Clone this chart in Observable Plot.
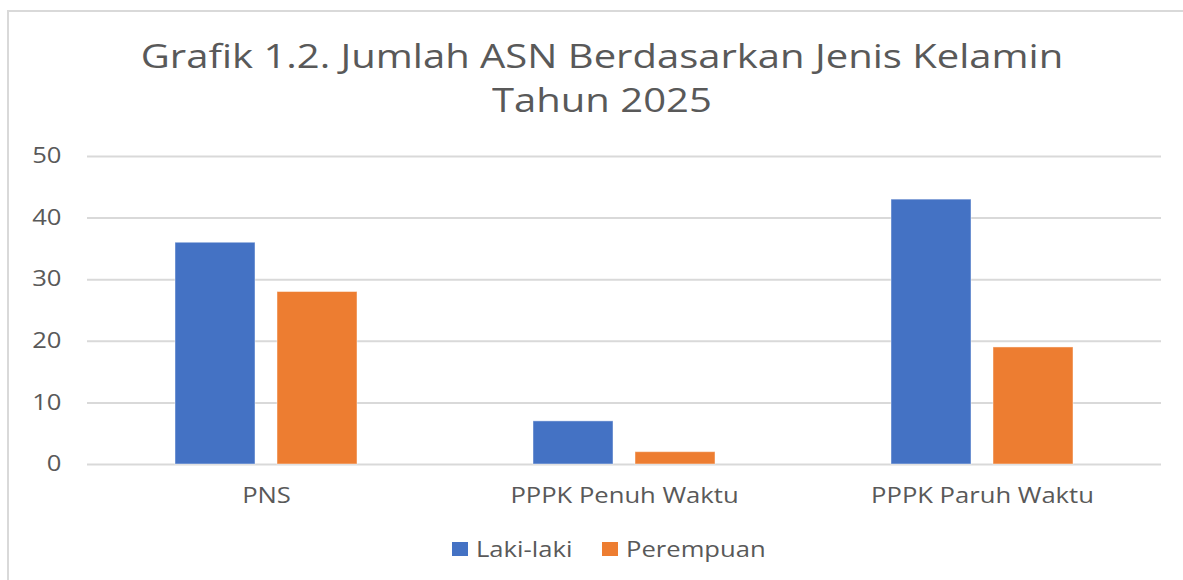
<!DOCTYPE html>
<html><head><meta charset="utf-8">
<script src="https://cdn.jsdelivr.net/npm/d3@7"></script>
<script src="https://cdn.jsdelivr.net/npm/@observablehq/plot@0.6"></script>
<style>
html,body{margin:0;padding:0;background:#fff;overflow:hidden;width:1183px;height:580px;position:relative;}
#frame{position:absolute;left:7px;top:10px;width:1200px;height:620px;border:2px solid #d9d9d9;box-sizing:border-box;}
#title{position:absolute;left:7px;width:1190px;top:34px;text-align:center;font-family:"Open Sans",sans-serif;font-size:32px;line-height:44px;color:#595959;}
#title span{display:inline-block;transform:scaleX(1.25);transform-origin:center;}
#chart{position:absolute;left:0;top:130px;}
.item{position:absolute;top:535px;height:28px;display:flex;align-items:center;font-family:"Open Sans",sans-serif;font-size:21px;color:#595959;white-space:nowrap;}
.sw{width:16px;height:14px;margin-right:8px;flex:none;}
.item span{display:inline-block;transform:scaleX(1.22);transform-origin:left center;}
</style></head><body>
<div id="frame"></div>
<div id="title"><span>Grafik 1.2. Jumlah ASN Berdasarkan Jenis Kelamin</span><br><span>Tahun 2025</span></div>
<div id="chart"></div>
<div id="legend"></div>
<script>
const categories = ["PNS", "PPPK Penuh Waktu", "PPPK Paruh Waktu"];
const series = ["Laki-laki", "Perempuan"];
const lakiLaki = [36, 7, 43];
const perempuan = [28, 2, 19];
const yTicks = [0, 10, 20, 30, 40, 50];
const colors = ["#4472C4", "#ED7D31"];

const data = categories.flatMap((c, i) => [
  {category: c, sex: series[0], value: lakiLaki[i]},
  {category: c, sex: series[1], value: perempuan[i]}
]);

const chart = Plot.plot({
  width: 1183, height: 384,
  marginLeft: 87, marginRight: 22, marginTop: 26, marginBottom: 50,
  style: {fontFamily: "'Open Sans', sans-serif", fontSize: "21px", color: "#595959", background: "transparent"},
  fx: {domain: categories, padding: 0, label: null, axis: "bottom", tickSize: 0, tickPadding: 24},
  x: {domain: series, axis: null, paddingInner: 0.214, paddingOuter: 0.845},
  y: {domain: [0, 50], ticks: yTicks, label: null, tickSize: 0, tickPadding: 26},
  color: {domain: series, range: colors},
  marks: [
    Plot.ruleY(yTicks, {stroke: "#d9d9d9", strokeWidth: 2}),
    Plot.barY(data, {fx: "category", x: "sex", y: "value", fill: "sex", stroke: "#ffffff", strokeOpacity: 0.45, strokeWidth: 1})
  ]
});
document.getElementById("chart").appendChild(chart);

// widen axis text horizontally around its anchor to match the reference's wide face
d3.select(chart).selectAll("text").each(function() {
  const t = this.getAttribute("transform") || "";
  const x = +(this.getAttribute("x") || 0);
  this.setAttribute("transform", `${t} translate(${x},0) scale(1.22,1) translate(${-x},0)`);
});

const legendLefts = [452, 602];
const legend = document.getElementById("legend");
series.forEach((s, i) => {
  const it = document.createElement("div"); it.className = "item"; it.style.left = legendLefts[i] + "px";
  const sw = document.createElement("div"); sw.className = "sw"; sw.style.background = colors[i];
  const tx = document.createElement("span"); tx.textContent = s;
  it.appendChild(sw); it.appendChild(tx); legend.appendChild(it);
});
</script>
</body></html>
